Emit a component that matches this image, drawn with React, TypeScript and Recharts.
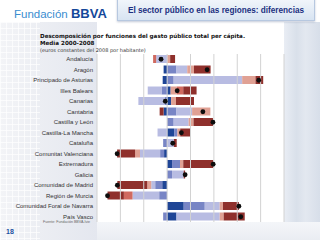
import { ComposedChart, Bar, Scatter, XAxis, YAxis, CartesianGrid, ReferenceLine } from 'recharts';

// Regions, top to bottom
const regions = [
  'Andalucía',
  'Aragón',
  'Principado de Asturias',
  'Illes Balears',
  'Canarias',
  'Cantabria',
  'Castilla y León',
  'Castilla-La Mancha',
  'Cataluña',
  'Comunitat Valenciana',
  'Extremadura',
  'Galicia',
  'Comunidad de Madrid',
  'Región de Murcia',
  'Comunidad Foral de Navarra',
  'País Vasco',
];

// Per-capita gap vs. national mean by function (euros 2008)
const serviciosGenerales = [0, -15, -19, 15, 17, -15, 0, 30, 0, -13, 21, 0, -21, 0, 71, 40];
const sanidad = [0, 40, 28, -24, -9, 40, 28, 14, -17, -17, 34, 21, -30, -34, 90, -17];
const proteccionSocial = [-47, 46, 293, -59, -114, 67, 64, -41, 29, -86, 0, 50, -17, -114, 64, 185];
const educacion = [13, 29, 57, 26, 21, 78, 21, 12, 0, -21, 14, 0, -17, 0, 14, 17];
const otras = [-13, 0, 0, 28, 0, 0, 0, 0, 0, 0, 0, 0, 0, -37, 0, 0];
const asuntosEconomicos = [21, 71, 33, 57, 77, -17, 83, 46, 12, -77, 128, 6, -128, -70, 68, 90];

const xTicks = [-300, -200, -100, 0, 100, 200, 300, 400, 500];

const series = [
  { key: 'generales', name: 'Servicios generales', color: '#1f4596', values: serviciosGenerales },
  { key: 'sanidad', name: 'Sanidad', color: '#7885c5', values: sanidad },
  { key: 'social', name: 'Protección social', color: '#b8bce2', values: proteccionSocial },
  { key: 'educacion', name: 'Educación', color: '#e0a194', values: educacion },
  { key: 'otras', name: 'Otras funciones', color: '#d06a60', values: otras },
  { key: 'economicos', name: 'Asuntos económicos', color: '#8f302c', values: asuntosEconomicos },
];

const data = regions.map((region, i) => {
  const row: Record<string, string | number> = { region };
  let total = 0;
  series.forEach((s) => {
    row[s.key] = s.values[i];
    total += s.values[i];
  });
  row.total = total;
  return row;
});

const TotalDot = (props: any) => {
  const { cx, cy } = props;
  if (cx == null || cy == null) return null;
  return <circle cx={cx} cy={cy} r={2.4} fill="#0d0d0d" />;
};

// single-line region label, right aligned against the plot
const RegionTick = (props: any) => {
  const { x, y, payload } = props;
  return (
    <text
      x={x}
      y={y}
      dy="0.35em"
      textAnchor="end"
      fontSize={6}
      fill="#333"
      fontFamily='"Liberation Sans", Arial, sans-serif'
    >
      {payload.value}
    </text>
  );
};

export default function App() {
  return (
    <div
      style={{
        position: 'absolute',
        left: 0,
        top: 0,
        width: 320,
        height: 240,
        overflow: 'hidden',
        background: '#ffffff',
        fontFamily: '"Liberation Sans", Arial, sans-serif',
      }}
    >
      {/* side panels */}
      <div
        style={{
          position: 'absolute',
          left: 0,
          top: 22,
          width: 97,
          height: 218,
          background: 'linear-gradient(to right, #f3f4f7 0%, #eceef3 40%, #e4e7ef 100%)',
        }}
      />
      <div
        style={{
          position: 'absolute',
          left: 0,
          top: 22,
          width: 40,
          height: 218,
          backgroundImage:
            'repeating-linear-gradient(to right, rgba(255,255,255,0.7) 0 1px, transparent 1px 6px), repeating-linear-gradient(to bottom, rgba(255,255,255,0.7) 0 1px, transparent 1px 6px)',
        }}
      />
      <div
        style={{
          position: 'absolute',
          left: 284,
          top: 22,
          width: 36,
          height: 218,
          background: 'linear-gradient(to right, #e9edf4 0%, #d9e0ea 35%, #e3e8f0 60%, #d7dee9 100%)',
        }}
      />
      <div
        style={{
          position: 'absolute',
          left: 97,
          top: 222,
          width: 223,
          height: 18,
          background: 'linear-gradient(to bottom, #f4f6f9, #eaedf2)',
        }}
      />

      {/* logo */}
      <div style={{ position: 'absolute', left: 14, top: 4, whiteSpace: 'nowrap' }}>
        <span style={{ fontSize: 11.5, color: '#3a8dd0' }}>Fundación </span>
        <span style={{ fontSize: 13, fontWeight: 700, color: '#14489a' }}>BBVA</span>
      </div>

      {/* title box */}
      <div
        style={{
          position: 'absolute',
          left: 117,
          top: -2,
          width: 198,
          height: 23,
          background: 'linear-gradient(to bottom, #f2f6fb, #d8e4f2)',
          border: '1px solid #b7c8e0',
          boxShadow: '0 1px 2px rgba(80,100,140,0.35)',
          display: 'flex',
          alignItems: 'center',
          justifyContent: 'center',
          paddingTop: 2,
          boxSizing: 'border-box',
        }}
      >
        <span style={{ fontSize: 8.2, fontWeight: 700, color: '#1b2f80', whiteSpace: 'nowrap' }}>
          El sector público en las regiones: diferencias
        </span>
      </div>

      {/* subtitle */}
      <div
        style={{
          position: 'absolute',
          left: 40,
          top: 33,
          fontFamily: '"DejaVu Sans", Verdana, sans-serif',
          color: '#111',
          whiteSpace: 'nowrap',
          lineHeight: '7px',
        }}
      >
        <div style={{ fontSize: 5.6, fontWeight: 700 }}>
          Descomposición por funciones del gasto público total per cápita.
        </div>
        <div style={{ fontSize: 5.6, fontWeight: 700 }}>Media 2000-2008</div>
        <div style={{ fontSize: 5, color: '#333' }}>(euros constantes del 2008 por habitante)</div>
      </div>

      <div style={{ position: 'absolute', left: 0, top: 0 }}>
        <ComposedChart
          width={320}
          height={240}
          data={data}
          layout="vertical"
          stackOffset="sign"
          barSize={8}
          margin={{ top: 54, right: 36, bottom: 18, left: 0 }}
        >
          <CartesianGrid horizontal={false} vertical={false} fill="#ffffff" />
          <XAxis
            type="number"
            domain={[-300, 500]}
            ticks={xTicks}
            tick={false}
            tickLine={false}
            axisLine={false}
            height={0}
            allowDataOverflow
          />
          <YAxis
            type="category"
            dataKey="region"
            width={97}
            interval={0}
            tickSize={0}
            tickMargin={4}
            axisLine={false}
            tick={<RegionTick />}
          />
          {/* vertical gridlines every 100 euros */}
          {xTicks.map((t) => (
            <ReferenceLine key={t} x={t} stroke="#d2d2d2" strokeWidth={1} />
          ))}
          {series.map((s) => (
            <Bar
              key={s.key}
              dataKey={s.key}
              name={s.name}
              stackId="funciones"
              fill={s.color}
              isAnimationActive={false}
            />
          ))}
          <Scatter dataKey="total" shape={TotalDot} isAnimationActive={false} />
        </ComposedChart>
      </div>

      {/* footer */}
      <div style={{ position: 'absolute', left: 43, top: 220, fontSize: 3.6, color: '#666', whiteSpace: 'nowrap' }}>
        Fuente: Fundación BBVA-Ivie
      </div>
      <div style={{ position: 'absolute', left: 6, top: 228, fontSize: 7, fontWeight: 700, color: '#1a4fa0' }}>18</div>
    </div>
  );
}
